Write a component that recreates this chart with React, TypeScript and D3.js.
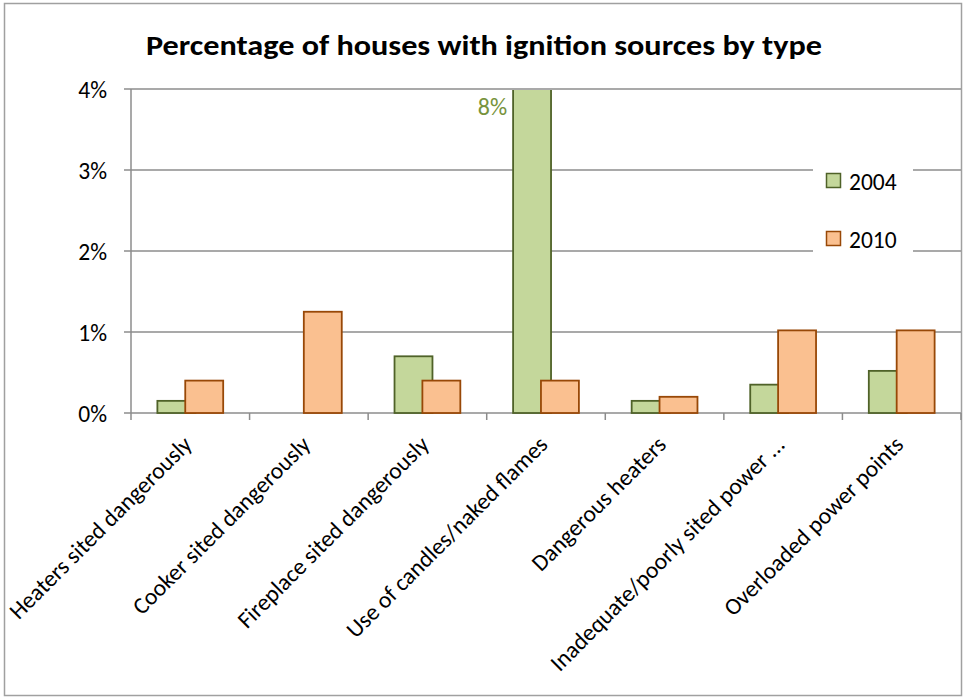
import React from "react";
import * as d3 from "d3";

const categories = [
  "Heaters sited dangerously",
  "Cooker sited dangerously",
  "Fireplace sited dangerously",
  "Use of candles/naked flames",
  "Dangerous heaters",
  "Inadequate/poorly sited power ...",
  "Overloaded power points",
];
const values2004 = [0.15, 0, 0.7, 8, 0.15, 0.35, 0.52];
const values2010 = [0.4, 1.25, 0.4, 0.4, 0.2, 1.02, 1.02];
const seriesNames = ["2004", "2010"];
const yTicks = [0, 1, 2, 3, 4];
const title = "Percentage of houses with ignition sources by type";

const FONT = "Carlito, Calibri, Lato, 'Open Sans', sans-serif";
const fills = ["#C4D79B", "#FAC090"];
const strokes = ["#4F6228", "#984807"];

export default function App() {
  const W = 964, H = 697;
  const left = 131, right = 961, top = 89, bottom = 413;
  const x = d3.scaleBand<string>().domain(categories).range([left, right]).padding(0);
  const y = d3.scaleLinear().domain([0, 4]).range([bottom, top]).clamp(true);
  const bw = x.bandwidth();
  const barW = bw * 0.32;
  const step = bw * 0.235;
  const series = [values2004, values2010];
  const groupW = barW + step;

  return (
    <svg width={W} height={H} style={{ position: "absolute", left: 0, top: 0, background: "#fff" }} fontFamily={FONT}>
      <defs>
        <clipPath id="plotclip">
          <rect x={left} y={top + 1} width={right - left} height={bottom - top + 5} />
        </clipPath>
      </defs>
      <rect x={4.5} y={3.5} width={957} height={692} fill="#fff" stroke="#A0A0A0" strokeWidth={1.5} />
      <text x={146} y={55} textLength={676} lengthAdjust="spacingAndGlyphs" fontSize={28} fontWeight="bold" fill="#000">{title}</text>

      {/* gridlines */}
      {yTicks.map((t) => (
        <line key={t} x1={left - 7} x2={right} y1={y(t)} y2={y(t)} stroke="#8C8C8C" strokeWidth={1.5} />
      ))}
      {/* y axis */}
      <line x1={left} x2={left} y1={top} y2={bottom + 7} stroke="#8C8C8C" strokeWidth={1.5} />
      {categories.map((c, i) => (
        <line key={"t" + i} x1={x(c)! + bw} x2={x(c)! + bw} y1={bottom} y2={bottom + 7} stroke="#8C8C8C" strokeWidth={1.5} />
      ))}
      {yTicks.map((t) => (
        <text key={"yl" + t} x={107} y={y(t) + 9} textAnchor="end" fontSize={23.5} fill="#000">{t}%</text>
      ))}

      {/* bars */}
      <g clipPath="url(#plotclip)">
        {series.map((vals, s) =>
          vals.map((v, i) => {
            if (v <= 0) return null;
            const cx = x(categories[i])! + bw / 2;
            const x0 = cx - groupW / 2 + s * step;
            return (
              <rect key={s + "-" + i} x={x0} y={y(v)} width={barW} height={bottom - y(v)}
                fill={fills[s]} stroke={strokes[s]} strokeWidth={1.8} />
            );
          })
        )}
      </g>
      {/* clipped value label */}
      <text x={x(categories[3])! + bw / 2 - groupW / 2 - 6} y={115} textAnchor="end" fontSize={24} fill="#77933C">{values2004[3]}%</text>

      {/* x labels */}
      {categories.map((c, i) => {
        const cx = x(c)! + bw / 2;
        return (
          <text key={"xl" + i} transform={`translate(${cx + 3},${446}) rotate(-45)`} textAnchor="end" fontSize={23.5} fill="#000">{c}</text>
        );
      })}

      {/* legend */}
      <rect x={813} y={150} width={100} height={115} fill="#fff" />
      {seriesNames.map((n, s) => (
        <g key={n}>
          <rect x={826.5} y={173.5 + s * 58} width={14} height={14} fill={fills[s]} stroke={strokes[s]} strokeWidth={1.5} />
          <text x={849} y={190 + s * 58} fontSize={23.5} fill="#000">{n}</text>
        </g>
      ))}
    </svg>
  );
}
